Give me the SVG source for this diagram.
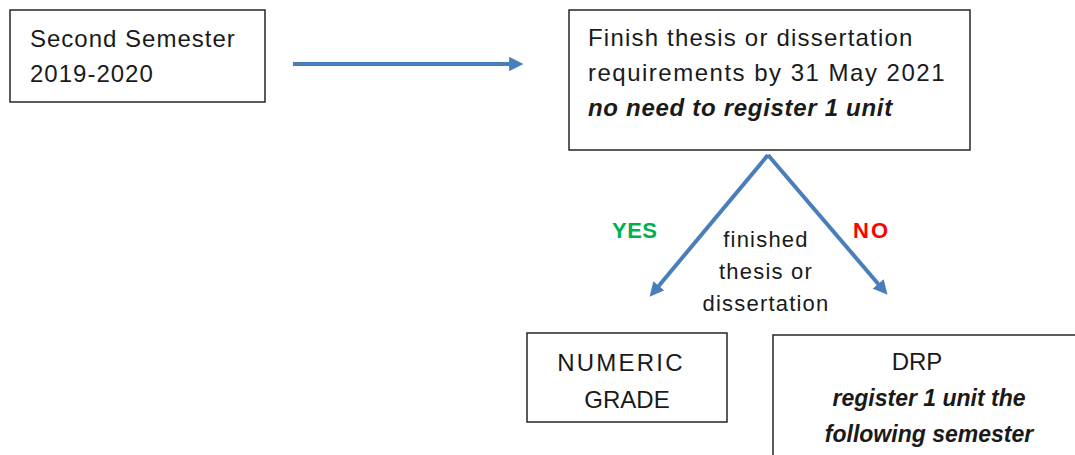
<svg xmlns="http://www.w3.org/2000/svg" width="1075" height="455" viewBox="0 0 1075 455">
<defs>
<marker id="ah" viewBox="0 0 10 10" refX="2" refY="5" markerWidth="3.6" markerHeight="3.6" orient="auto" markerUnits="strokeWidth">
<path d="M0,0 L10,5 L0,10 z" fill="#4a7ebb"/>
</marker>
<style>
.box{fill:#fff;stroke:#262626;stroke-width:1.5}
.t{font-family:"Liberation Sans",Arial,sans-serif;font-size:24px;fill:#1a1a1a;letter-spacing:1px}
.s{font-size:22px;letter-spacing:1.2px}
.c{text-anchor:middle}
.bi{font-weight:bold;font-style:italic}
.con{stroke:#4a7ebb;stroke-width:4;fill:none;marker-end:url(#ah)}
.lab{font-family:"Liberation Sans",Arial,sans-serif;font-size:22px;font-weight:bold;letter-spacing:0.5px}
</style>
</defs>
<rect width="1075" height="455" fill="#fff"/>
<g id="connectors">
<line class="con" x1="293" y1="64" x2="512" y2="64"/>
<line class="con" x1="768" y1="155" x2="657" y2="288"/>
<line class="con" x1="768" y1="155" x2="880" y2="286"/>
</g>
<g id="n1">
<rect class="box" x="10" y="10" width="255" height="92"/>
<text class="t" x="30" y="47">Second Semester</text>
<text class="t" x="30" y="82">2019-2020</text>
</g>
<g id="n2">
<rect class="box" x="569" y="10" width="401" height="140"/>
<text class="t" x="588" y="46" style="letter-spacing:1.2px">Finish thesis or dissertation</text>
<text class="t" x="588" y="81" style="letter-spacing:1.5px">requirements by 31 May 2021</text>
<text class="t bi" x="588" y="116" style="letter-spacing:0.7px">no need to register 1 unit</text>
</g>
<g id="decision">
<text class="lab" x="612" y="238" fill="#00b050">YES</text>
<text class="lab" x="853" y="238" fill="#ff0000" style="letter-spacing:2px">NO</text>
<text class="t s c" x="766" y="247">finished</text>
<text class="t s c" x="766" y="279">thesis or</text>
<text class="t s c" x="766" y="311">dissertation</text>
</g>
<g id="n3">
<rect class="box" x="527" y="333" width="200" height="89"/>
<text class="t c" x="621" y="371" style="letter-spacing:2.2px">NUMERIC</text>
<text class="t c" x="627" y="408" style="letter-spacing:0">GRADE</text>
</g>
<g id="n4">
<rect class="box" x="773" y="335" width="310" height="130"/>
<text class="t c" x="917" y="370" style="letter-spacing:0">DRP</text>
<text class="t c bi" x="929" y="406" style="font-size:23px;letter-spacing:0">register 1 unit the</text>
<text class="t c bi" x="929" y="442" style="font-size:23px;letter-spacing:0">following semester</text>
</g>
</svg>
